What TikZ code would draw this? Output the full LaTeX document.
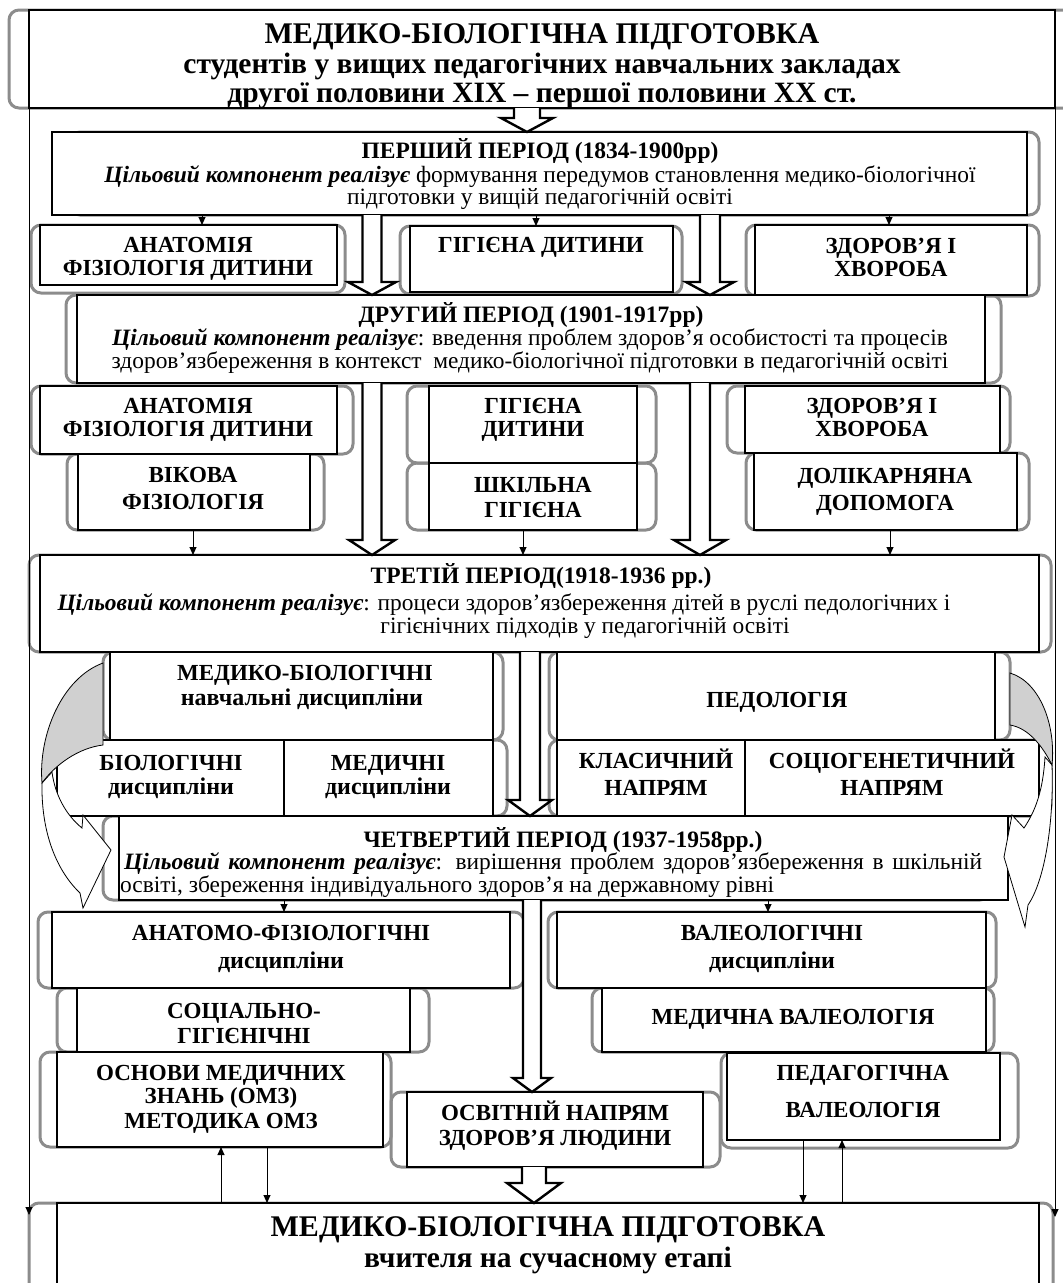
\documentclass[tikz,border=0pt]{standalone}
\usepackage{fontspec}
\setmainfont{Liberation Serif}
\usetikzlibrary{arrows.meta}
\definecolor{frgray}{RGB}{140,140,140}
\definecolor{crgray}{RGB}{208,208,208}
\newcommand\ftitle{\fontsize{30}{32}\selectfont\bfseries}
\newcommand\fsub{\fontsize{29.5}{32}\selectfont\bfseries}
\newcommand\fhead{\fontsize{23.5}{26}\selectfont\bfseries}
\newcommand\fbody{\fontsize{23.4}{26}\selectfont}
\newcommand\flab{\fontsize{23}{26}\selectfont\bfseries}
\newcommand\fsmall{\fontsize{24}{26}\selectfont\bfseries}
\newcommand\ck{\textbf{\textit{Цільовий компонент реалізує}}}
\newcommand\gfr[4]{\draw[gframe] (#1,#2) rectangle (#3,#4);}
\newcommand\bx[5]{\node[bbox,minimum width={#4-#2},minimum height={#5-#3}] (#1) at ({(#2+#4)/2},{(#3+#5)/2}) {};}
\newcommand\barr[6]{\draw[barrow] (#1-#5,#2) -- (#1-#5,#3) -- (#1-#6,#3) -- (#1,#4) -- (#1+#6,#3) -- (#1+#5,#3) -- (#1+#5,#2);}
\begin{document}
\begin{tikzpicture}[x=1pt,y=-1pt,
 gframe/.style={draw=frgray,line width=3pt,rounded corners=10pt},
 bbox/.style={draw=black,line width=1.1pt,fill=white,inner sep=0pt,outer sep=0pt},
 txt/.style={anchor=base,inner sep=0pt},
 tarr/.style={draw,line width=0.9pt,-{Triangle[length=8pt,width=7pt]}},
 barrow/.style={draw=black,line width=2.4pt,fill=white,line join=miter},
 crv/.style={draw=black,line width=0.8pt}]
\useasboundingbox (0,0) rectangle (1063,1283);
% gray frames
\gfr{9}{10}{1075}{108}
\gfr{70}{132}{1039}{215}
\gfr{31}{225}{345}{293}
\gfr{400}{226}{682}{294}
\gfr{746}{225}{1039}{296}
\gfr{66}{295}{1001}{383}
\gfr{31}{386}{353}{454}
\gfr{67}{454}{324}{530}
\gfr{407}{386}{656}{463}
\gfr{407}{463}{656}{530}
\gfr{727}{386}{1010}{453}
\gfr{746}{453}{1029}{530}
\gfr{29}{555}{1051}{652}
\gfr{103}{652}{503}{740}
\gfr{120}{740}{507}{816}
\gfr{549}{652}{1010}{740}
\gfr{549}{740}{1051}{816}
\gfr{103}{816}{990}{900}
\gfr{38}{912}{524}{988}
\gfr{57}{988}{429}{1052}
\gfr{40}{1052}{391}{1147}
\gfr{548}{912}{996}{988}
\gfr{592}{988}{994}{1052}
\gfr{721}{1053}{1018}{1148}
\gfr{391}{1092}{720}{1167}
\gfr{29}{1203}{1053}{1300}
% black boxes
\bx{title}{29}{10}{1055}{108}
\bx{p1}{52}{132}{1027}{215}
\bx{an1}{40}{225}{337}{285}
\bx{gi1}{410}{226}{673}{292}
\bx{zd1}{755}{225}{1027}{295}
\bx{p2}{77}{295}{985}{383}
\bx{an2}{40}{386}{337}{454}
\bx{vik}{78}{454}{310}{530}
\bx{gi2}{429}{386}{637}{463}
\bx{shk}{429}{463}{637}{530}
\bx{zd2}{745}{386}{1000}{453}
\bx{dol}{754}{453}{1017}{530}
\bx{p3}{40}{555}{1039}{652}
\bx{medbio}{110}{652}{493}{740}
\bx{biol}{57}{740}{284}{816}
\bx{med}{284}{740}{493}{816}
\bx{ped}{557}{652}{995}{740}
\bx{klas}{557}{740}{745}{816}
\bx{soc}{745}{740}{1039}{816}
\bx{p4}{119}{816}{1008}{900}
\bx{anf}{52}{912}{510}{988}
\bx{socg}{77}{988}{410}{1052}
\bx{omz}{57}{1052}{383}{1147}
\bx{val}{557}{912}{986}{988}
\bx{medval}{602}{988}{986}{1052}
\bx{pedval}{727}{1053}{1000}{1140}
\bx{osv}{407}{1092}{703}{1167}
\bx{fin}{57}{1203}{1039}{1300}
% outer arrows
\coordinate (lend) at (29,1215);
\coordinate (rend) at (1055,1217);
\draw[tarr] (title.south west) -- (lend);
\draw[tarr] (title.south east) -- (rend);
% block arrows
\barr{527}{108}{118}{132}{13}{26}
\barr{372}{215}{282}{295}{9.5}{24}
\barr{710}{215}{282}{295}{10}{24}
\barr{372}{383}{540}{555}{9.5}{23}
\barr{700}{383}{540}{555}{10}{26}
\barr{530}{652}{800}{816}{10}{22}
\barr{532}{900}{1078}{1092}{9}{19}
\barr{534}{1167}{1183}{1203}{12}{27}
% thin arrows
\draw[tarr] (p1.south -| 202,0) -- (an1.north -| 202,0);
\draw[tarr] (p1.south -| 536,0) -- (gi1.north -| 536,0);
\draw[tarr] (p1.south -| 889,0) -- (zd1.north -| 889,0);
\draw[tarr] (vik.south -| 193,0) -- (p3.north -| 193,0);
\draw[tarr] (shk.south -| 523,0) -- (p3.north -| 523,0);
\draw[tarr] (dol.south -| 890,0) -- (p3.north -| 890,0);
\draw[tarr] (p4.south -| 284,0) -- (anf.north -| 284,0);
\draw[tarr] (p4.south -| 768,0) -- (val.north -| 768,0);
\draw[tarr] (fin.north -| 221,0) -- (omz.south -| 221,0);
\draw[tarr] (omz.south -| 267,0) -- (fin.north -| 267,0);
\draw[tarr] (pedval.south -| 803,0) -- (fin.north -| 803,0);
\draw[tarr] (fin.north -| 842,0) -- (pedval.south -| 842,0);
% texts
\node[txt] (tt1) at (542,43) {\ftitle МЕДИКО-БІОЛОГІЧНА ПІДГОТОВКА};
\node[txt] (tt2) at (542,73) {\fsub студентів у вищих педагогічних навчальних закладах};
\node[txt] (tt3) at (542,102) {\fsub другої половини XIX – першої половини XX ст.};
\node[txt] (p1h) at (540,158) {\fhead ПЕРШИЙ ПЕРІОД (1834-1900рр)};
\node[txt] (p1a) at (540,182) {\fbody\ck{} формування передумов становлення медико-біологічної};
\node[txt] (p1b) at (540,204) {\fbody підготовки у вищій педагогічній освіті};
\node[txt] (an1a) at (188,252) {\flab АНАТОМІЯ};
\node[txt] (an1b) at (188,275) {\flab ФІЗІОЛОГІЯ ДИТИНИ};
\node[txt] (gi1a) at (541,252) {\flab ГІГІЄНА ДИТИНИ};
\node[txt] (zd1a) at (891,253) {\flab ЗДОРОВ’Я І};
\node[txt] (zd1b) at (891,276) {\flab ХВОРОБА};
\node[txt] (p2h) at (531,322) {\fhead ДРУГИЙ ПЕРІОД (1901-1917рр)};
\node[txt] (p2a) at (530,345) {\fbody\ck: введення проблем здоров’я особистості та процесів};
\node[txt] (p2b) at (530,368) {\fbody здоров’язбереження в контекст\ \ медико-біологічної підготовки в педагогічній освіті};
\node[txt] (an2a) at (188,413) {\flab АНАТОМІЯ};
\node[txt] (an2b) at (188,436) {\flab ФІЗІОЛОГІЯ ДИТИНИ};
\node[txt] (vika) at (193,482) {\flab ВІКОВА};
\node[txt] (vikb) at (193,509) {\flab ФІЗІОЛОГІЯ};
\node[txt] (gi2a) at (533,413) {\flab ГІГІЄНА};
\node[txt] (gi2b) at (533,436) {\flab ДИТИНИ};
\node[txt] (shka) at (533,492) {\flab ШКІЛЬНА};
\node[txt] (shkb) at (533,517) {\flab ГІГІЄНА};
\node[txt] (zd2a) at (872,413) {\flab ЗДОРОВ’Я І};
\node[txt] (zd2b) at (872,436) {\flab ХВОРОБА};
\node[txt] (dola) at (885,483) {\flab ДОЛІКАРНЯНА};
\node[txt] (dolb) at (885,510) {\flab ДОПОМОГА};
\node[txt] (p3h) at (541,583) {\fhead ТРЕТІЙ ПЕРІОД(1918-1936 рр.)};
\node[txt] (p3a) at (504,610) {\fbody\ck: процеси здоров’язбереження дітей в руслі педологічних і};
\node[txt] (p3b) at (585,633) {\fbody гігієнічних підходів у педагогічній освіті};
\node[txt] (mba) at (305,680) {\flab МЕДИКО-БІОЛОГІЧНІ};
\node[txt] (mbb) at (302,705) {\fsmall навчальні дисципліни};
\node[txt] (bia) at (171,770) {\flab БІОЛОГІЧНІ};
\node[txt] (bib) at (171,794) {\fsmall дисципліни};
\node[txt] (mea) at (388,770) {\flab МЕДИЧНІ};
\node[txt] (meb) at (388,794) {\fsmall дисципліни};
\node[txt] (peda) at (777,707) {\flab ПЕДОЛОГІЯ};
\node[txt] (kla) at (656,768) {\flab КЛАСИЧНИЙ};
\node[txt] (klb) at (656,795) {\flab НАПРЯМ};
\node[txt] (soa) at (892,768) {\flab СОЦІОГЕНЕТИЧНИЙ};
\node[txt] (sob) at (892,795) {\flab НАПРЯМ};
\node[txt] (p4h) at (563,847) {\fhead ЧЕТВЕРТИЙ ПЕРІОД (1937-1958рр.)};
\node[anchor=base west,inner sep=0pt] (p4a) at (124,869) {\fbody\makebox[858pt][s]{\ck: вирішення проблем здоров’язбереження в шкільній}};
\node[anchor=base west,inner sep=0pt] (p4b) at (120,892) {\fbody освіті, збереження індивідуального здоров’я на державному рівні};
\node[txt] (anfa) at (281,940) {\flab АНАТОМО-ФІЗІОЛОГІЧНІ};
\node[txt] (anfb) at (281,968) {\fsmall дисципліни};
\node[txt] (sga) at (244,1018) {\flab СОЦІАЛЬНО-};
\node[txt] (sgb) at (244,1043) {\flab ГІГІЄНІЧНІ};
\node[txt] (omza) at (221,1080) {\flab ОСНОВИ МЕДИЧНИХ};
\node[txt] (omzb) at (221,1103) {\flab ЗНАНЬ (ОМЗ)};
\node[txt] (omzc) at (221,1128) {\flab МЕТОДИКА ОМЗ};
\node[txt] (vala) at (772,940) {\flab ВАЛЕОЛОГІЧНІ};
\node[txt] (valb) at (772,968) {\fsmall дисципліни};
\node[txt] (mva) at (793,1024) {\flab МЕДИЧНА ВАЛЕОЛОГІЯ};
\node[txt] (pva) at (863,1080) {\flab ПЕДАГОГІЧНА};
\node[txt] (pvb) at (863,1117) {\flab ВАЛЕОЛОГІЯ};
\node[txt] (osa) at (555,1120) {\flab ОСВІТНІЙ НАПРЯМ};
\node[txt] (osb) at (555,1145) {\flab ЗДОРОВ’Я ЛЮДИНИ};
\node[txt] (fa) at (548,1236) {\ftitle МЕДИКО-БІОЛОГІЧНА ПІДГОТОВКА};
\node[txt] (fb) at (548,1267) {\fsub вчителя на сучасному етапі};
% curved arrows
\draw[crv,fill=white] (42,783) .. controls (41,835) and (58,872) .. (80,893) -- (83,908) -- (111,850) -- (83,815) -- (82,828) .. controls (66,815) and (55,795) .. (52,772) -- cycle;
\draw[crv,fill=crgray] (103,663) .. controls (62,678) and (38,735) .. (42,783) .. controls (55,765) and (78,748) .. (103,745) -- cycle;
\draw[crv,fill=white] (1052,765) .. controls (1054,822) and (1045,880) .. (1028,905) -- (1025,927) -- (1004,857) -- (1012,815) -- (1024,828) .. controls (1036,810) and (1043,790) .. (1045,757) -- cycle;
\draw[crv,fill=crgray] (1010,673) .. controls (1040,682) and (1056,725) .. (1052,765) .. controls (1042,745) and (1028,728) .. (1010,725) -- cycle;
\end{tikzpicture}
\end{document}
